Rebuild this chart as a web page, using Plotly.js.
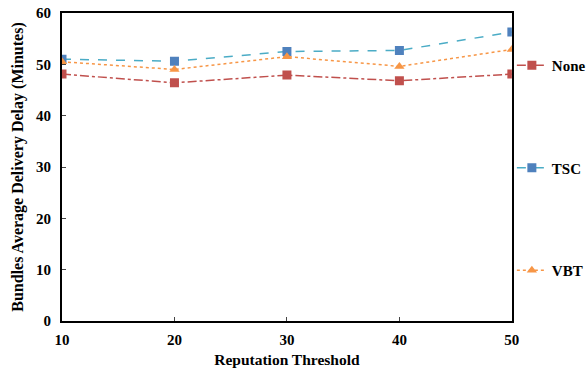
<!DOCTYPE html>
<html>
<head>
<meta charset="utf-8">
<script src="https://cdn.plot.ly/plotly-3.0.1.min.js"></script>
<style>html,body{margin:0;padding:0;background:#fff;}#chart{width:587px;height:372px;}</style>
</head>
<body>
<div id="chart"></div>
<script>
const thresholds = [10, 20, 30, 40, 50];
const noneDelay = [48.1, 46.4, 47.9, 46.8, 48.1];
const tscDelay = [51.0, 50.6, 52.5, 52.7, 56.3];
const vbtDelay = [50.5, 49.0, 51.5, 49.6, 52.9];
const seriesNames = ['None', 'TSC', 'VBT'];
const yTicks = [0, 10, 20, 30, 40, 50, 60];

const fontFam = '"Liberation Serif", "Times New Roman", serif';

const traces = [
  {x: thresholds, y: noneDelay, name: seriesNames[0], mode: 'lines+markers', legendgroup: 'a',
   line: {color: '#C0504D', dash: 'dashdot', width: 1.5},
   marker: {symbol: 'square', size: 9, color: '#C0504D'}},
  {x: thresholds, y: tscDelay, name: seriesNames[1], mode: 'lines+markers', legendgroup: 'b',
   line: {color: '#4BACC6', dash: 'dash', width: 1.5},
   marker: {symbol: 'square', size: 9, color: '#4F81BD'}},
  {x: thresholds, y: vbtDelay, name: seriesNames[2], mode: 'lines+markers', legendgroup: 'c',
   line: {color: '#F79646', dash: 'dot', width: 1.5},
   marker: {symbol: 'triangle-up', size: 9, color: '#F79646'}}
];

const layout = {
  width: 587, height: 372,
  margin: {l: 62, r: 70, t: 13, b: 51},
  paper_bgcolor: '#fff', plot_bgcolor: '#fff',
  font: {family: fontFam, color: '#000', size: 14, weight: 'bold'},
  showlegend: true,
  legend: {xref: 'container', yref: 'container', x: 0.872, xanchor: 'left', y: 0.868, yanchor: 'top',
           tracegroupgap: 80, itemwidth: 30, maxheight: 1,
           font: {family: fontFam, size: 15, weight: 'bold', color: '#000'},
           bgcolor: 'rgba(0,0,0,0)'},
  xaxis: {range: [10, 50], tickvals: thresholds, ticks: 'inside', ticklen: 4, tickwidth: 1,
          showline: true, linecolor: '#000', linewidth: 2, mirror: true, showgrid: false, zeroline: false,
          ticklabelstandoff: 4,
          tickfont: {family: fontFam, size: 15, weight: 'bold'},
          title: {text: 'Reputation Threshold', font: {family: fontFam, size: 15.5, weight: 'bold'}, standoff: 7}},
  yaxis: {range: [0, 60], tickvals: yTicks, ticks: 'inside', ticklen: 4, tickwidth: 1,
          showline: true, linecolor: '#000', linewidth: 2, mirror: true, showgrid: false, zeroline: false,
          ticklabelstandoff: 6,
          tickfont: {family: fontFam, size: 15, weight: 'bold'},
          title: {text: 'Bundles Average Delivery Delay (Minutes)', font: {family: fontFam, size: 16, weight: 'bold'}, standoff: 8}}
};

Plotly.newPlot('chart', traces, layout, {displayModeBar: false, staticPlot: true});
</script>
</body>
</html>
